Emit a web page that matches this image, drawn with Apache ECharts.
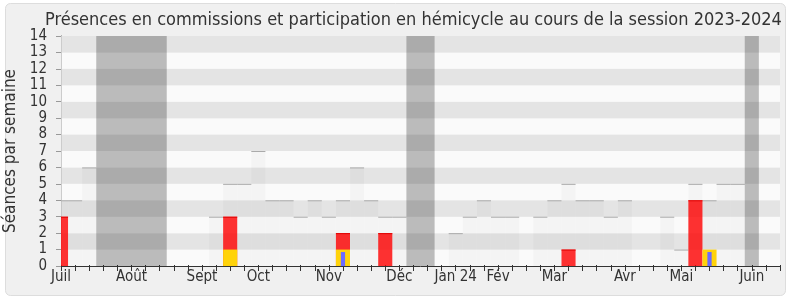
<!DOCTYPE html>
<html>
<head>
<meta charset="utf-8">
<script src="https://cdn.jsdelivr.net/npm/echarts@6/dist/echarts.min.js"></script>
<style>html,body{margin:0;padding:0;background:#fff;}#c{width:790px;height:300px;}</style>
</head>
<body>
<div id="c"></div>
<script>
// Week indices 0..51 (week 0 = first week of July 2023)
const monthTicks = [0, 5, 10, 14, 19, 24, 28, 31, 35, 40, 44, 49];
const monthLabels = ['Juil', 'Août', 'Sept', 'Oct', 'Nov', 'Déc', 'Jan 24', 'Fév', 'Mar', 'Avr', 'Mai', 'Juin'];
// total sessions per week (gray bars), 52 weeks
const seancesTotal = [4,4,6,0,0,0,0,0,0,0,0,3,5,5,7,4,4,3,4,3,4,6,4,3,3,0,0,0,2,3,4,3,3,0,3,4,5,4,4,3,4,0,0,3,1,5,4,5,5,0,0,0];
// vacation weeks
const vacancesWeeks = [3,4,5,6,7,25,26,49];
// commission presences (red)
const commissionWeeks = [0, 12, 20, 23, 36, 45];
const commissionValues = [3, 3, 2, 2, 1, 4];
// hemicycle participation (yellow)
const hemicycleWeeks = [12, 20, 46];
const hemicycleValues = [1, 1, 1];
// questions / interventions (blue)
const questionWeeks = [20, 46];
const questionValues = [0.85, 0.85];

const FONT = '"DejaVu Sans Condensed", "DejaVu Sans", sans-serif';

function clipR(params, r) {
  const cs = params.coordSys;
  return echarts.graphic.clipRectByRect(r, {x: cs.x, y: cs.y, width: cs.width, height: cs.height});
}

function makeBarRender(fill, frac, topColor) {
  return function (params, api) {
    const x = api.value(0), lo = api.value(1), hi = api.value(2);
    const a = api.coord([x - frac / 2, hi]);
    const b = api.coord([x + frac / 2, lo]);
    const r = clipR(params, {x: a[0], y: a[1], width: b[0] - a[0], height: b[1] - a[1]});
    if (!r) return;
    const children = [{type: 'rect', shape: r, style: {fill: fill}}];
    if (topColor) {
      children.push({type: 'line', shape: {x1: r.x, y1: a[1] + 0.5, x2: r.x + r.width, y2: a[1] + 0.5}, style: {stroke: topColor, lineWidth: 1}});
    }
    return {type: 'group', children: children};
  };
}

const grayData = [];
seancesTotal.forEach((v, i) => { if (v > 0) grayData.push([i, 0, v]); });
const vacData = [];
vacancesWeeks.forEach((w) => {
  const last = vacData[vacData.length - 1];
  if (last && last[1] === w - 0.5) last[1] = w + 0.5; else vacData.push([w - 0.5, w + 0.5]);
});
const redData = commissionWeeks.map((w, i) => [w, 0, commissionValues[i]]);
const yelData = hemicycleWeeks.map((w, i) => [w, 0, hemicycleValues[i]]);
const bluData = questionWeeks.map((w, i) => [w, 0, questionValues[i]]);

const chart = echarts.init(document.getElementById('c'), null, {renderer: 'canvas'});
chart.setOption({
  backgroundColor: '#ffffff',
  animation: false,
  graphic: [{
    type: 'rect', z: -10, zlevel: 0,
    shape: {x: 5.5, y: 3.5, width: 780, height: 292, r: 5},
    style: {fill: '#f0f0f0', stroke: '#dddddd', lineWidth: 1}
  }],
  title: {
    text: 'Présences en commissions et participation en hémicycle au cours de la session 2023-2024',
    left: 40, top: 6,
    textStyle: {fontFamily: FONT, fontSize: 18, fontWeight: 'normal', color: '#333'}
  },
  grid: {left: 61, right: 10, top: 36, bottom: 34, outerBoundsMode: 'none', containLabel: false},
  xAxis: [{
    type: 'value', min: 0, max: 51, interval: 1,
    axisLine: {show: true, lineStyle: {color: '#333', width: 1}},
    axisTick: {show: true, length: 5, lineStyle: {color: '#333'}},
    splitLine: {show: false},
    axisLabel: {
      margin: 4, fontFamily: FONT, fontSize: 15, color: '#333',
      showMinLabel: true, showMaxLabel: true,
      formatter: (v) => { const k = monthTicks.indexOf(Math.round(v)); return k >= 0 ? monthLabels[k] : ''; }
    }
  }, {
    type: 'value', min: 0, max: 51, interval: 1, position: 'top',
    axisLine: {show: false},
    axisTick: {show: true, length: 1, lineStyle: {color: '#333'}},
    axisLabel: {show: false}, splitLine: {show: false}
  }],
  yAxis: [{
    type: 'value', min: 0, max: 14, interval: 1,
    name: 'Séances par semaine', nameLocation: 'middle', nameGap: 36,
    nameTextStyle: {fontFamily: FONT, fontSize: 17, color: '#333'},
    axisLine: {show: true, lineStyle: {color: '#333'}},
    axisTick: {show: true, length: 5, lineStyle: {color: '#999'}},
    axisLabel: {margin: 14, fontFamily: FONT, fontSize: 15, color: '#333'},
    splitLine: {show: false},
    splitArea: {show: true, areaStyle: {color: ['#fafafa', '#e4e4e4']}}
  }, {
    type: 'value', min: 0, max: 14, interval: 1, position: 'right',
    axisLine: {show: true, lineStyle: {color: '#cccccc'}},
    axisTick: {show: false}, axisLabel: {show: false}, splitLine: {show: false}
  }],
  series: [
    {type: 'custom', name: 'Séances', xAxisIndex: 0, yAxisIndex: 0, z: 2,
     renderItem: makeBarRender('rgba(0,0,0,0.025)', 1, '#aaaaaa'), data: grayData},
    {type: 'custom', name: 'Vacances', xAxisIndex: 0, yAxisIndex: 0, z: 3,
     renderItem: function (params, api) {
       const a = api.coord([api.value(0), 14]);
       const b = api.coord([api.value(1), 0]);
       const r = clipR(params, {x: a[0], y: a[1], width: b[0] - a[0], height: b[1] - a[1]});
       if (!r) return;
       return {type: 'rect', shape: r, style: {fill: 'rgba(0,0,0,0.25)'}};
     }, data: vacData},
    {type: 'custom', name: 'Commission', z: 4,
     renderItem: makeBarRender('rgba(255,0,0,0.8)', 1, '#e00000'), data: redData},
    {type: 'custom', name: 'Hémicycle', z: 5,
     renderItem: makeBarRender('#ffd30a', 1, null), data: yelData},
    {type: 'custom', name: 'Questions', z: 6,
     renderItem: makeBarRender('#6b6bff', 0.3, null), data: bluData}
  ]
});
</script>
</body>
</html>
